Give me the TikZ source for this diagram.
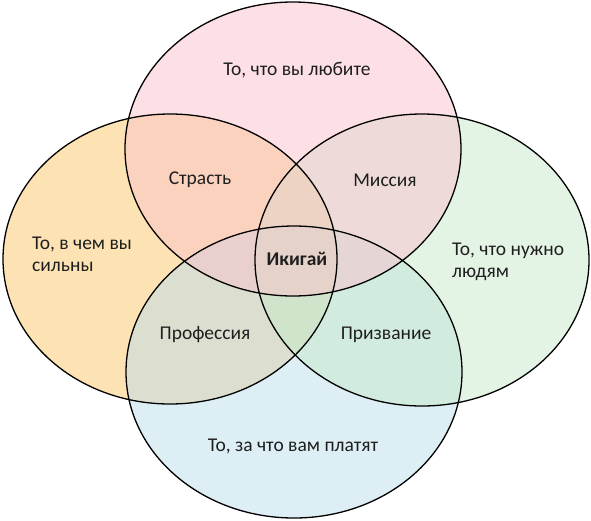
\documentclass[tikz,border=0pt]{standalone}
\usepackage{fontspec}
\setmainfont{Carlito}
\definecolor{lovepink}{RGB}{249,193,203}
\definecolor{goodorange}{RGB}{251,199,103}
\definecolor{needgreen}{RGB}{199,233,203}
\definecolor{paidblue}{RGB}{187,221,235}
\definecolor{inktext}{RGB}{30,30,30}
\tikzset{zone/.style={fill opacity=0.5}}
\tikzset{rim/.style={draw=black, line width=1.3pt}}
\tikzset{zonetext/.style={font=\fontsize{19.5}{22}\selectfont, text=inktext, align=left, inner sep=0pt}}

\begin{document}
\begin{tikzpicture}[x=1pt,y=-1pt]

\useasboundingbox (0,0) rectangle (591,520);

\fill[zone, fill=goodorange] (170,259) ellipse [x radius=167, y radius=145];

\fill[zone, fill=paidblue] (294,372) ellipse [x radius=168, y radius=146];

\fill[zone, fill=needgreen] (422,260) ellipse [x radius=167, y radius=146];

\fill[zone, fill=lovepink] (293,149) ellipse [x radius=168, y radius=147];

\draw[rim] (170,259) ellipse [x radius=167, y radius=145];
\draw[rim] (294,372) ellipse [x radius=168, y radius=146];
\draw[rim] (422,260) ellipse [x radius=167, y radius=146];
\draw[rim] (293,149) ellipse [x radius=168, y radius=147];

\node[zonetext] (love) at (297,70) {То, что вы любите};
\node[zonetext, anchor=west] (good) at (32,254) {То, в чем вы\\сильны};
\node[zonetext, anchor=west] (need) at (452,262) {То, что нужно\\людям};
\node[zonetext] (paid) at (293,446) {То, за что вам платят};

\node[zonetext] (passion) at (200,180) {Страсть};
\node[zonetext] (mission) at (385,180) {Миссия};
\node[zonetext] (profession) at (205,335) {Профессия};
\node[zonetext] (vocation) at (386,335) {Призвание};

\node[zonetext, font=\fontsize{19.5}{22}\selectfont\bfseries] (ikigai) at (297,259) {Икигай};

\end{tikzpicture}
\end{document}
